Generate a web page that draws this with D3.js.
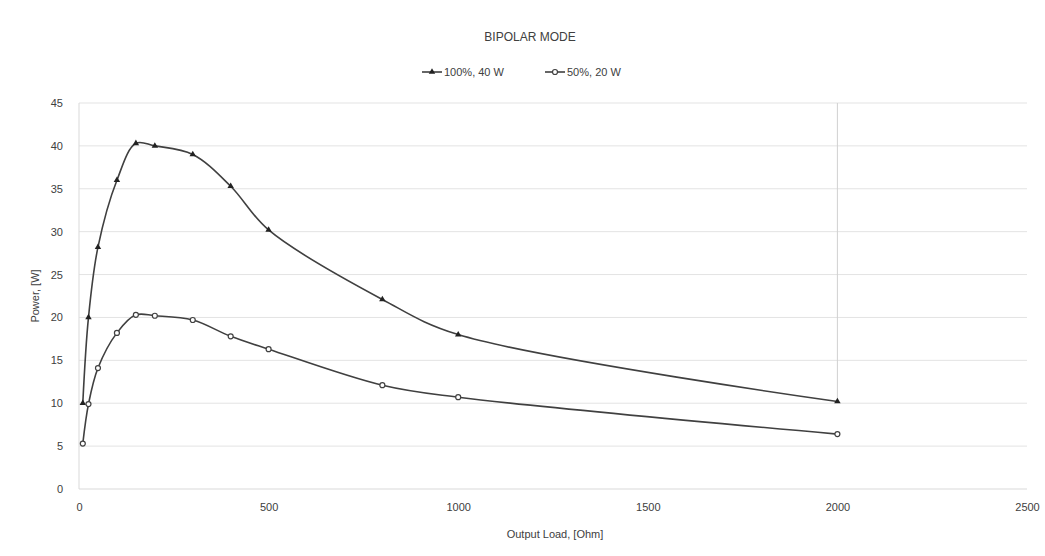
<!DOCTYPE html>
<html><head><meta charset="utf-8">
<script src="https://cdn.jsdelivr.net/npm/d3@7"></script>
<style>body{margin:0;background:#fff}svg{display:block}text{font-family:"Liberation Sans Narrow","Liberation Sans",Arial,sans-serif;fill:#404040}</style>
</head><body><svg id="c" width="1045" height="556"></svg>
<script>
const loads = [10, 25, 50, 100, 150, 200, 300, 400, 500, 800, 1000, 2000];
const power100 = [10, 20, 28.2, 36, 40.3, 40, 39, 35.3, 30.2, 22.1, 18, 10.2];
const power50 = [5.3, 9.9, 14.1, 18.2, 20.3, 20.2, 19.7, 17.8, 16.3, 12.1, 10.7, 6.4];
const seriesNames = ["100%, 40 W", "50%, 20 W"];
const xTicks = [0, 500, 1000, 1500, 2000, 2500];
const yTicks = [0, 5, 10, 15, 20, 25, 30, 35, 40, 45];

const svg = d3.select("#c");
const x = d3.scaleLinear().domain([0, 2500]).range([79, 1027]);
const y = d3.scaleLinear().domain([0, 45]).range([489, 103]);
const col = "#404040";

// gridlines
svg.append("g").selectAll("line").data(yTicks.slice(1)).join("line")
  .attr("x1", x(0)).attr("x2", x(2500)).attr("y1", d => y(d)).attr("y2", d => y(d))
  .attr("stroke", "#e3e3e3").attr("stroke-width", 1);
svg.append("line").attr("x1", x(2000)).attr("x2", x(2000)).attr("y1", y(45)).attr("y2", y(10.2))
  .attr("stroke", "#d0d0d0").attr("stroke-width", 1);
svg.append("line").attr("x1", x(0)).attr("x2", x(0)).attr("y1", y(45)).attr("y2", y(0))
  .attr("stroke", "#d9d9d9");
svg.append("line").attr("x1", x(0)).attr("x2", x(2500)).attr("y1", y(0)).attr("y2", y(0))
  .attr("stroke", "#d9d9d9");

// axes
const xa = svg.append("g").attr("transform", `translate(0,${y(0)})`)
  .call(d3.axisBottom(x).tickValues(xTicks).tickSize(0).tickPadding(14).tickFormat(d3.format("d")));
xa.select(".domain").remove();
xa.selectAll("text").attr("font-size", 11).attr("fill", col).style("font-family", "'Liberation Sans Narrow', sans-serif");
const ya = svg.append("g").attr("transform", `translate(${x(0)},0)`)
  .call(d3.axisLeft(y).tickValues(yTicks).tickSize(0).tickPadding(16));
ya.select(".domain").remove();
ya.selectAll("text").attr("font-size", 11).attr("fill", col).style("font-family", "'Liberation Sans Narrow', sans-serif");

// titles
svg.append("text").attr("x", 530).attr("y", 41).attr("text-anchor", "middle").attr("font-size", 12).text("BIPOLAR MODE");
svg.append("text").attr("x", 555).attr("y", 538).attr("text-anchor", "middle").attr("font-size", 11).text("Output Load, [Ohm]");
svg.append("text").attr("transform", "translate(39,296) rotate(-90)").attr("text-anchor", "middle").attr("font-size", 11).text("Power, [W]");

// lines
const line = d3.line().x(d => x(d[0])).y(d => y(d[1])).curve(d3.curveCatmullRom.alpha(0.5));
const d100 = loads.map((l, i) => [l, power100[i]]);
const d50 = loads.map((l, i) => [l, power50[i]]);
svg.append("path").attr("d", line(d100)).attr("fill", "none").attr("stroke", col).attr("stroke-width", 1.6);
svg.append("path").attr("d", line(d50)).attr("fill", "none").attr("stroke", col).attr("stroke-width", 1.6);

const tri = d3.symbol().type(d3.symbolTriangle).size(18);
svg.append("g").selectAll("path").data(d100).join("path")
  .attr("transform", d => `translate(${x(d[0])},${y(d[1])})`).attr("d", tri()).attr("fill", "#222");
svg.append("g").selectAll("circle").data(d50).join("circle")
  .attr("cx", d => x(d[0])).attr("cy", d => y(d[1])).attr("r", 2.5)
  .attr("fill", "#fff").attr("stroke", col).attr("stroke-width", 1.2);

// legend
const lg = svg.append("g");
lg.append("line").attr("x1", 422).attr("x2", 442).attr("y1", 72).attr("y2", 72).attr("stroke", col).attr("stroke-width", 1.6);
lg.append("path").attr("transform", "translate(432,72)").attr("d", tri()).attr("fill", "#222");
lg.append("text").attr("x", 444).attr("y", 76).attr("font-size", 11).text(seriesNames[0]);
lg.append("line").attr("x1", 545).attr("x2", 565).attr("y1", 72).attr("y2", 72).attr("stroke", col).attr("stroke-width", 1.6);
lg.append("circle").attr("cx", 555).attr("cy", 72).attr("r", 2.5).attr("fill", "#fff").attr("stroke", col).attr("stroke-width", 1.2);
lg.append("text").attr("x", 567).attr("y", 76).attr("font-size", 11).text(seriesNames[1]);
</script></body></html>
